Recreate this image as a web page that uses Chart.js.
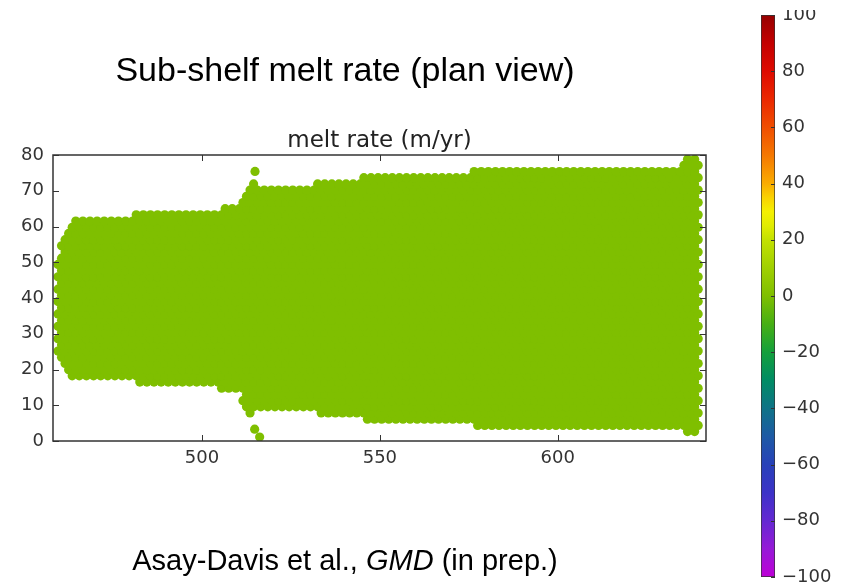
<!DOCTYPE html>
<html>
<head>
<meta charset="utf-8">
<script src="https://cdn.jsdelivr.net/npm/chart.js@4.4.1/dist/chart.umd.min.js"></script>
<style>
  html, body { margin: 0; padding: 0; background: #fff; }
  #wrap { position: relative; width: 844px; height: 587px; overflow: hidden; }
  #main { position: absolute; left: 0; top: 0; }
  #cbar { position: absolute; left: 740px; top: 10px; }
  .txt { position: absolute; font-family: "Liberation Sans", Arial, sans-serif; color: #000;
         white-space: nowrap; line-height: 1; transform: translateX(-50%); }
  #headline { left: 345px; top: 52px; font-size: 34px; }
  #credit { left: 345px; top: 546px; font-size: 29px; }
</style>
</head>
<body>
<div id="wrap">
  <canvas id="main" width="844" height="587"></canvas>
  <canvas id="cbar" width="104" height="577"></canvas>
  <div class="txt" id="headline">Sub-shelf melt rate (plan view)</div>
  <div class="txt" id="credit">Asay-Davis et al., <i>GMD</i> (in prep.)</div>
</div>
<script>
// Ice-shelf cavity outline (km), traced through the outermost cell centres
const outlineX = [459.2, 459.2, 461.0, 463.2, 464.2, 481.5, 481.5, 506.0, 506.0, 511.0, 513.0, 513.8,
                  514.8, 515.2, 532.0, 532.0, 545.5, 545.5, 576.0, 576.0, 635.0, 635.5, 636.5, 639.0,
                  639.8, 639.8, 639.0, 636.5, 635.5, 576.0, 576.0, 546.0, 546.0, 533.0, 533.0, 515.0,
                  514.5, 512.0, 511.0, 510.5, 505.0, 505.0, 481.5, 481.5, 464.0, 461.5, 460.2];
const outlineY = [23.0, 51.0, 56.0, 60.5, 62.4, 62.4, 64.1, 64.1, 65.8, 65.8, 69.5, 72.0,
                  72.0, 71.0, 71.0, 72.8, 72.8, 74.5, 74.5, 76.2, 76.2, 78.0, 79.5, 79.5,
                  78.0, 1.7, 1.0, 1.0, 3.5, 3.5, 5.2, 5.2, 7.0, 7.0, 8.7, 8.7,
                  7.0, 7.0, 12.0, 13.9, 13.9, 15.6, 15.6, 17.4, 17.4, 19.2, 21.0];

// Detached wet cells near the grounding-line pinch
const looseCellX = [514.9, 514.8, 516.2];
const looseCellY = [75.4, 3.3, 1.1];
const looseCellMelt = [0, 0, 0];

// Melt rate (m/yr) over the cavity
const cavityMelt = 0;

// Hexagonal mesh: 2 km cell spacing, offset rows
const meshSpacing = 2;
const meshRowHeight = 1.732;
const meshOriginX = 459.5;
const meshOriginY = 0.9;
const meshRows = 46;
const meshCols = 91;

// Axis ticks
const xTicks = [500, 550, 600];
const yTicks = [0, 10, 20, 30, 40, 50, 60, 70, 80];
const cbarTicks = [-100, -80, -60, -40, -20, 0, 20, 40, 60, 80, 100];

// Colour map stops (value -> rgb)
const cmapValues = [-100, -90, -80, -70, -60, -50, -40, -30, -20, -10, 0, 10, 20, 25, 30, 35, 40, 50, 60, 70, 80, 90, 100];
const cmapColors = [
  [190, 0, 215], [150, 25, 215], [100, 40, 210], [60, 50, 200], [40, 65, 185], [30, 90, 165],
  [15, 115, 135], [0, 140, 100], [20, 160, 60], [70, 175, 20], [127, 191, 0], [160, 208, 0],
  [195, 225, 0], [225, 236, 0], [245, 240, 0], [250, 210, 0], [250, 172, 0], [245, 120, 0],
  [240, 78, 0], [235, 40, 0], [222, 10, 0], [195, 0, 0], [150, 0, 0]
];

function cmap(v) {
  if (v <= cmapValues[0]) return cmapColors[0];
  for (let i = 1; i < cmapValues.length; i++) {
    if (v <= cmapValues[i]) {
      const t = (v - cmapValues[i - 1]) / (cmapValues[i] - cmapValues[i - 1]);
      const a = cmapColors[i - 1], b = cmapColors[i];
      return [0, 1, 2].map(k => Math.round(a[k] + (b[k] - a[k]) * t));
    }
  }
  return cmapColors[cmapColors.length - 1];
}
const rgb = c => `rgb(${c[0]},${c[1]},${c[2]})`;

function insideOutline(x, y) {
  let inside = false;
  for (let i = 0, j = outlineX.length - 1; i < outlineX.length; j = i++) {
    const xi = outlineX[i], yi = outlineY[i], xj = outlineX[j], yj = outlineY[j];
    if ((yi > y) !== (yj > y) && x < (xj - xi) * (y - yi) / (yj - yi) + xi) inside = !inside;
  }
  return inside;
}

// Cell centres of the wet cavity
const cells = [];
for (let r = 0; r < meshRows; r++) {
  const y = meshOriginY + r * meshRowHeight;
  for (let c = 0; c < meshCols; c++) {
    const x = meshOriginX + (r % 2) * (meshSpacing / 2) + c * meshSpacing;
    if (insideOutline(x, y)) cells.push({ x: x, y: y, m: cavityMelt });
  }
}
looseCellX.forEach((x, i) => cells.push({ x: x, y: looseCellY[i], m: looseCellMelt[i] }));

const tickFont = { family: 'DejaVu Sans', size: 18 };
const inkColor = '#333';

// Frame with inward ticks on all four sides
const frameTicks = {
  id: 'frameTicks',
  afterDatasetsDraw(chart) {
    const { ctx, chartArea: a, scales } = chart;
    const L = 6;
    ctx.save();
    ctx.strokeStyle = inkColor;
    ctx.lineWidth = 1;
    ctx.beginPath();
    xTicks.forEach(v => {
      const px = Math.round(scales.x.getPixelForValue(v)) + 0.5;
      ctx.moveTo(px, a.bottom); ctx.lineTo(px, a.bottom - L);
      ctx.moveTo(px, a.top); ctx.lineTo(px, a.top + L);
    });
    yTicks.forEach(v => {
      const py = Math.round(scales.y.getPixelForValue(v)) + 0.5;
      ctx.moveTo(a.left, py); ctx.lineTo(a.left + L, py);
      ctx.moveTo(a.right, py); ctx.lineTo(a.right - L, py);
    });
    ctx.stroke();
    ctx.lineWidth = 1.5;
    ctx.strokeRect(a.left, a.top, a.right - a.left, a.bottom - a.top);
    ctx.restore();
  }
};

new Chart(document.getElementById('main'), {
  type: 'scatter',
  data: {
    datasets: [{
      data: cells,
      pointRadius: 4.6,
      pointHoverRadius: 4.6,
      pointBorderWidth: 0,
      pointBackgroundColor: ctx => rgb(cmap(ctx.raw ? ctx.raw.m : 0))
    }]
  },
  options: {
    responsive: false,
    animation: false,
    events: [],
    layout: { padding: { left: 0, right: 138, top: 125.4, bottom: 0 } },
    plugins: {
      legend: { display: false },
      tooltip: { enabled: false },
      title: {
        display: true,
        fullSize: false,
        text: 'melt rate (m/yr)',
        color: '#222',
        font: { family: 'DejaVu Sans', size: 23, weight: 'normal' },
        padding: { top: 2, bottom: 0 }
      }
    },
    scales: {
      x: {
        type: 'linear', min: 458.1, max: 641.7,
        afterBuildTicks: s => { s.ticks = xTicks.map(v => ({ value: v })); },
        afterFit: s => { s.height = 146; },
        grid: { display: false, drawTicks: false }, border: { display: false },
        ticks: { color: inkColor, font: tickFont, padding: 6.7, maxRotation: 0 }
      },
      y: {
        type: 'linear', min: 0, max: 80,
        afterBuildTicks: s => { s.ticks = yTicks.map(v => ({ value: v })); },
        afterFit: s => { s.width = 53; },
        grid: { display: false, drawTicks: false }, border: { display: false },
        ticks: { color: inkColor, font: tickFont, padding: 9 }
      }
    }
  },
  plugins: [frameTicks]
});

// Colour bar: one floating bar spanning the colour range, filled by the map
const cbarTickMarks = {
  id: 'cbarTickMarks',
  afterDatasetsDraw(chart) {
    const { ctx, chartArea: a, scales } = chart;
    ctx.save();
    ctx.strokeStyle = inkColor;
    ctx.lineWidth = 1;
    ctx.beginPath();
    cbarTicks.forEach(v => {
      const py = Math.round(scales.y.getPixelForValue(v)) + 0.5;
      ctx.moveTo(a.right, py); ctx.lineTo(a.right - 4, py);
    });
    ctx.stroke();
    ctx.restore();
  }
};

new Chart(document.getElementById('cbar'), {
  type: 'bar',
  data: {
    labels: ['melt'],
    datasets: [{
      data: [[cbarTicks[0], cbarTicks[cbarTicks.length - 1]]],
      barPercentage: 1,
      categoryPercentage: 1,
      borderWidth: 1,
      borderColor: inkColor,
      borderSkipped: false,
      backgroundColor: ctx => {
        const chart = ctx.chart, a = chart.chartArea;
        if (!a) return rgb(cmap(0));
        const ys = chart.scales.y;
        const top = ys.getPixelForValue(ys.max), bottom = ys.getPixelForValue(ys.min);
        const g = chart.ctx.createLinearGradient(0, bottom, 0, top);
        cmapValues.forEach((v, i) => g.addColorStop((v - ys.min) / (ys.max - ys.min), rgb(cmapColors[i])));
        return g;
      }
    }]
  },
  options: {
    responsive: false,
    animation: false,
    events: [],
    layout: { padding: { left: 21, right: 0, top: 5, bottom: 10 } },
    plugins: { legend: { display: false }, tooltip: { enabled: false } },
    scales: {
      x: { display: false },
      y: {
        position: 'right', min: -100, max: 100,
        afterBuildTicks: s => { s.ticks = cbarTicks.map(v => ({ value: v })); },
        afterFit: s => { s.width = 69; s.paddingTop = 0; s.paddingBottom = 0; },
        grid: { display: false, drawTicks: false }, border: { display: false },
        ticks: {
          color: inkColor, font: tickFont, padding: 7,
          callback: v => String(v).replace('-', '\u2212')
        }
      }
    }
  },
  plugins: [cbarTickMarks]
});
</script>
</body>
</html>
